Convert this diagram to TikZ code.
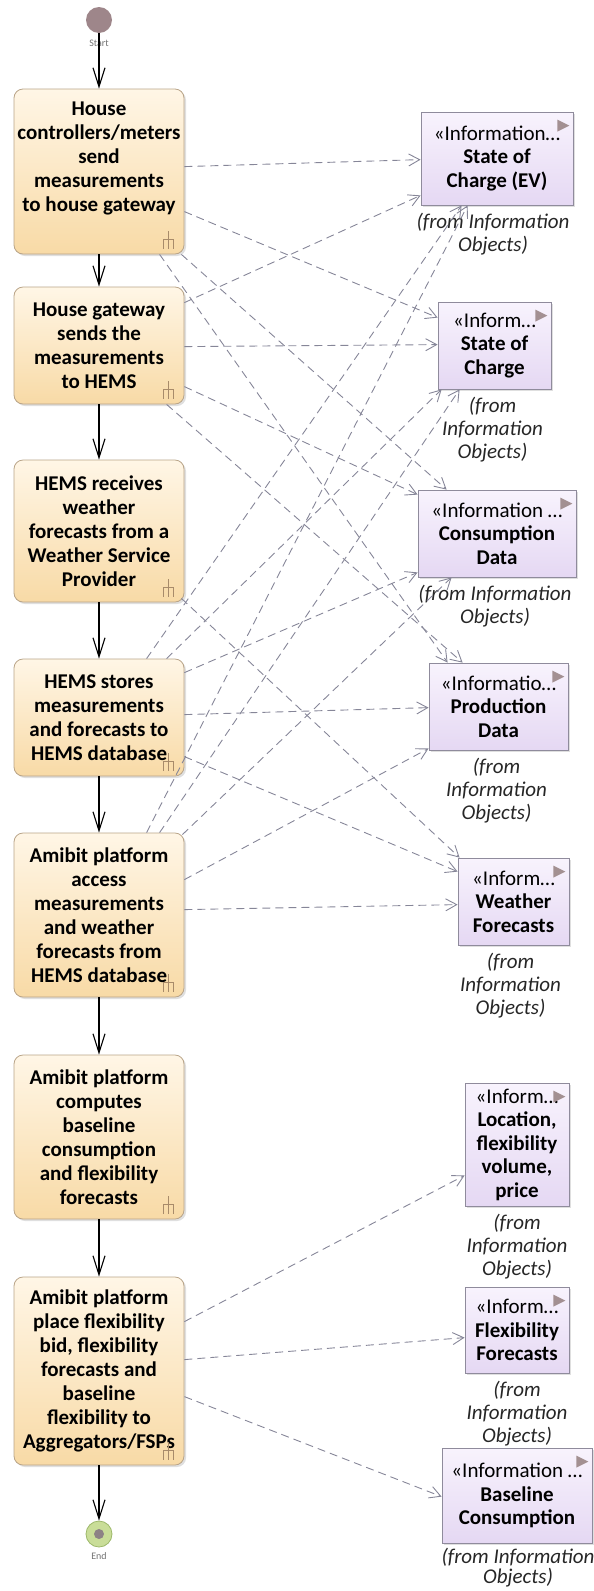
\documentclass[tikz,border=0pt]{standalone}
\usepackage{fontspec}
\setmainfont{Carlito}
\usetikzlibrary{arrows.meta,shadows,calc}

\definecolor{actA}{HTML}{FFF6E6}
\definecolor{actB}{HTML}{F8DAA6}
\definecolor{actline}{HTML}{B9A488}
\definecolor{infA}{HTML}{F8F3FD}
\definecolor{infB}{HTML}{E5D8F3}
\definecolor{infline}{HTML}{8F8B9C}
\definecolor{flowcol}{HTML}{868698}
\definecolor{rakecol}{HTML}{A88B6A}
\definecolor{tricol}{HTML}{A39092}
\definecolor{startcol}{HTML}{9E868A}
\definecolor{endring}{HTML}{C9DD98}
\definecolor{endline}{HTML}{9DB86A}
\definecolor{enddot}{HTML}{8D8285}

\tikzset{
  act/.style={draw=actline, line width=0.8pt, rounded corners=9pt,
    top color=actA, bottom color=actB, minimum width=170pt, inner sep=0pt,
    align=center, font=\fontsize{21}{24}\selectfont\bfseries,
    drop shadow={shadow xshift=2pt, shadow yshift=-2pt, opacity=0.25}},
  acttxt/.style={inner sep=0pt, align=center, font=\fontsize{21}{24}\selectfont\bfseries},
  inf/.style={draw=infline, line width=0.8pt, top color=infA, bottom color=infB,
    inner sep=0pt, align=center, font=\fontsize{21}{23.5}\selectfont,
    drop shadow={shadow xshift=2pt, shadow yshift=-2pt, opacity=0.25}},
  fromlbl/.style={anchor=north, inner sep=0pt, align=center,
    font=\fontsize{21}{23}\selectfont\itshape, text=black!85},
  smalllbl/.style={inner sep=0pt, font=\fontsize{10}{12}\selectfont, text=black!55},
  ctrl/.style={draw=black, line width=1.1pt,
    -{Straight Barb[length=19pt,width=12pt,line width=1.1pt]}},
  dep/.style={draw=flowcol, line width=0.9pt, dash pattern=on 8pt off 5pt,
    -{Straight Barb[length=11pt,width=12pt,line width=0.9pt]}},
  rake/.pic={\draw[rakecol, line width=0.8pt]
      (0,-8) -- (0,0) (-5,0) -- (5,0)
      (-5,0) -- (-5,10) (0,0) -- (0,10) (5,0) -- (5,10);},
  tri/.pic={\fill[tricol] (0,0) -- (0,12) -- (12,6) -- cycle;},
}

\begin{document}
\begin{tikzpicture}[x=1pt,y=-1pt]
\useasboundingbox (0,0) rectangle (594,1591);

% initial and final nodes
\node[circle, fill=startcol, minimum size=26pt, inner sep=0pt] (start) at (99,20) {};
\node[smalllbl] (startlbl) at (99,43) {Start};
\node[circle, draw=endline, line width=0.8pt, fill=endring, minimum size=26pt, inner sep=0pt] (end) at (99,1534) {};
\node[circle, fill=enddot, minimum size=10pt, inner sep=0pt] (enddot) at (end) {};
\node[smalllbl] (endlbl) at (99,1556) {End};

% activities
\node[act, minimum height=165pt] (a1) at (99,171.5) {};
\node[acttxt] (a1txt) at (99,158) {House\\controllers/meters\\send\\measurements\\to house gateway};
\node[act, minimum height=117pt] (a2) at (99,345.5) {House gateway\\sends the\\measurements\\to HEMS};
\node[act, minimum height=142pt] (a3) at (99,531) {HEMS receives\\weather\\forecasts from a\\Weather Service\\Provider};
\node[act, minimum height=117pt] (a4) at (99,717.5) {HEMS stores\\measurements\\and forecasts to\\HEMS database};
\node[act, minimum height=164pt] (a5) at (99,915) {Amibit platform\\access\\measurements\\and weather\\forecasts from\\HEMS database};
\node[act, minimum height=164pt] (a6) at (99,1137) {Amibit platform\\computes\\baseline\\consumption\\and flexibility\\forecasts};
\node[act, minimum height=188pt] (a7) at (99,1371) {Amibit platform\\place flexibility\\bid, flexibility\\forecasts and\\baseline\\flexibility to\\Aggregators/FSPs};

\foreach \n in {a1,a2,a3,a4,a5,a6,a7}
  \pic at ($(\n.south east)+(-16,-15)$) {rake};

% information objects
\node[inf, minimum width=152pt, minimum height=93pt] (i1) at (497,158.5)
  {«Information\ldots\\\textbf{State of}\\\textbf{Charge (EV)}};
\node[inf, minimum width=113pt, minimum height=87pt] (i2) at (494.5,345.5)
  {«Inform\ldots\\\textbf{State of}\\\textbf{Charge}};
\node[inf, minimum width=158pt, minimum height=87pt] (i3) at (497,533.5)
  {«Information \ldots\\\textbf{Consumption}\\\textbf{Data}};
\node[inf, minimum width=139pt, minimum height=87pt] (i4) at (498.5,706.5)
  {«Informatio\ldots\\\textbf{Production}\\\textbf{Data}};
\node[inf, minimum width=111pt, minimum height=87pt] (i5) at (513.5,901.5)
  {«Inform\ldots\\\textbf{Weather}\\\textbf{Forecasts}};
\node[inf, minimum width=104pt, minimum height=123pt] (i6) at (517,1144.5)
  {«Inform\ldots\\\textbf{Location,}\\\textbf{flexibility}\\\textbf{volume,}\\\textbf{price}};
\node[inf, minimum width=104pt, minimum height=86pt] (i7) at (517,1330)
  {«Inform\ldots\\\textbf{Flexibility}\\\textbf{Forecasts}};
\node[inf, minimum width=150pt, minimum height=95pt] (i8) at (517,1495.5)
  {«Information \ldots\\\textbf{Baseline}\\\textbf{Consumption}};

\foreach \n in {i1,i2,i3,i4,i5,i6,i7,i8}
  \pic at ($(\n.north east)+(-16,8)$) {tri};

% package notes under the information objects
\node[fromlbl] (f1) at ($(i1.south)+(-4,8)$) {(from Information\\Objects)};
\node[fromlbl] (f2) at ($(i2.south)+(-2,8)$) {(from\\Information\\Objects)};
\node[fromlbl] (f3) at ($(i3.south)+(-2,8)$) {(from Information\\Objects)};
\node[fromlbl] (f4) at ($(i4.south)+(-2,8)$) {(from\\Information\\Objects)};
\node[fromlbl] (f5) at ($(i5.south)+(-3,8)$) {(from\\Information\\Objects)};
\node[fromlbl] (f6) at ($(i6.south)+(0,8)$) {(from\\Information\\Objects)};
\node[fromlbl] (f7) at ($(i7.south)+(0,8)$) {(from\\Information\\Objects)};
\node[fromlbl, font=\fontsize{21}{20}\selectfont\itshape] (f8) at ($(i8.south)+(1,5)$) {(from Information\\Objects)};

% control flow
\draw[ctrl] (start) -- (a1);
\draw[ctrl] (a1) -- (a2);
\draw[ctrl] (a2) -- (a3);
\draw[ctrl] (a3) -- (a4);
\draw[ctrl] (a4) -- (a5);
\draw[ctrl] (a5) -- (a6);
\draw[ctrl] (a6) -- (a7);
\draw[ctrl] (a7) -- (end);

% information flows
\draw[dep] ($(a1.north east)+(0,78)$)  -- ($(i1.north west)+(0,48)$);
\draw[dep] ($(a1.north east)+(0,123)$) -- ($(i2.north west)+(0,16)$);
\draw[dep] ($(a1.south east)+(-3,0)$)  -- ($(i3.north west)+(29,0)$);
\draw[dep] ($(a1.south west)+(146,0)$) -- ($(i4.north west)+(19,0)$);

\draw[dep] ($(a2.north east)+(0,16)$)  -- ($(i1.south west)+(0,-10)$);
\draw[dep] ($(a2.north east)+(0,60)$)  -- ($(i2.north west)+(0,43)$);
\draw[dep] ($(a2.north east)+(0,100)$) -- ($(i3.north west)+(0,5)$);
\draw[dep] ($(a2.south west)+(153,0)$) -- ($(i4.north west)+(34,0)$);

\draw[dep] ($(a3.south east)+(-3,-4)$) -- ($(i5.north west)+(2,0)$);

\draw[dep] ($(a4.north west)+(133,0)$) -- ($(i1.south west)+(41,0)$);
\draw[dep] ($(a4.north west)+(153,0)$) -- ($(i2.south west)+(4,0)$);
\draw[dep] ($(a4.north east)+(0,14)$)  -- ($(i3.south west)+(0,-5)$);
\draw[dep] ($(a4.north east)+(0,56)$)  -- ($(i4.north west)+(0,45)$);
\draw[dep] ($(a4.north east)+(0,98)$)  -- ($(i5.north west)+(0,14)$);

\draw[dep] ($(a5.north west)+(133,0)$) -- ($(i1.south west)+(47,0)$);
\draw[dep] ($(a5.north west)+(146,0)$) -- ($(i2.south west)+(22,0)$);
\draw[dep] ($(a5.north east)+(-2,2)$)  -- ($(i3.south west)+(34,0)$);
\draw[dep] ($(a5.north east)+(0,47)$)  -- ($(i4.south west)+(0,-2)$);
\draw[dep] ($(a5.north east)+(0,77)$)  -- ($(i5.north west)+(0,47)$);

\draw[dep] ($(a7.north east)+(0,45)$)  -- ($(i6.south west)+(0,-31)$);
\draw[dep] ($(a7.north east)+(0,83)$)  -- ($(i7.north west)+(0,51)$);
\draw[dep] ($(a7.north east)+(0,120)$) -- ($(i8.north west)+(0,49)$);
\end{tikzpicture}
\end{document}
